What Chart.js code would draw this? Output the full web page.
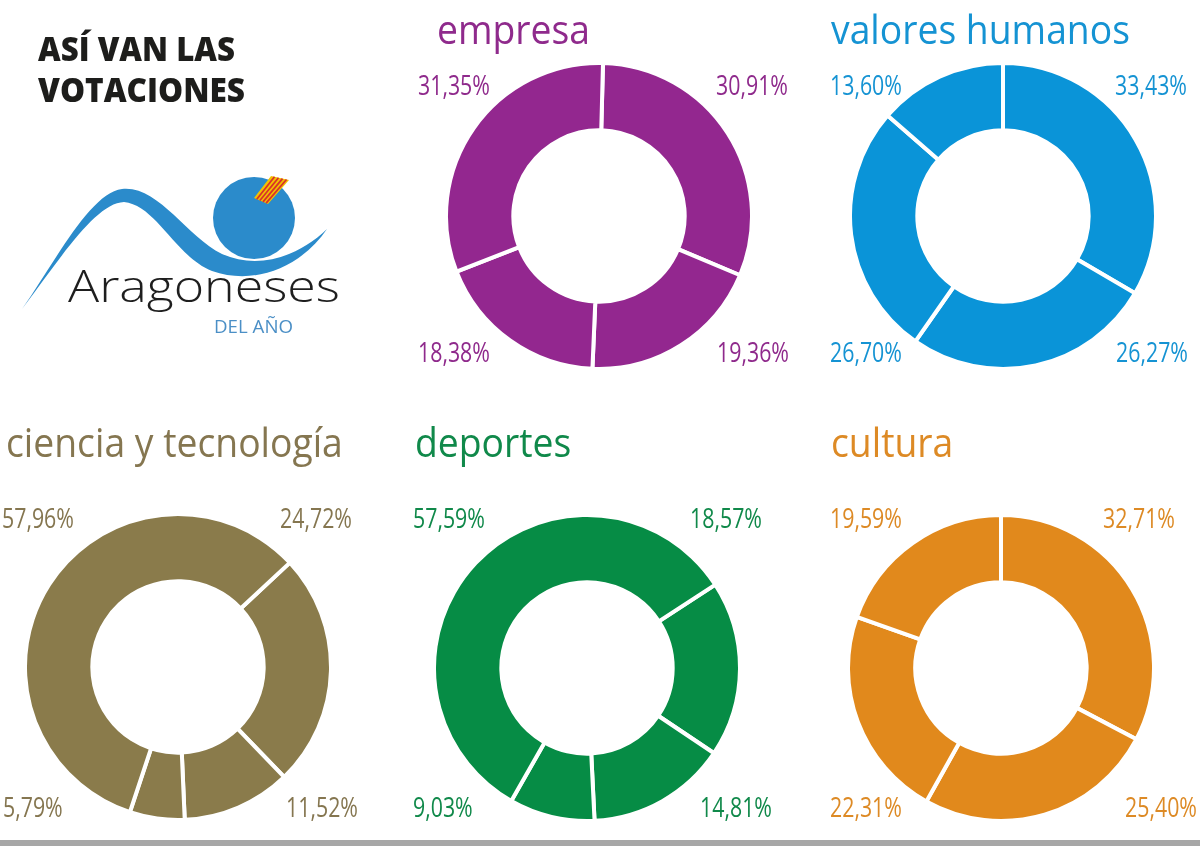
<!DOCTYPE html>
<html lang="es">
<head>
<meta charset="utf-8">
<title>Así van las votaciones</title>
<script src="https://cdn.jsdelivr.net/npm/chart.js@4.4.1/dist/chart.umd.min.js"></script>
<style>
  html, body { margin: 0; padding: 0; background: #fff; }
  #page { position: relative; width: 1200px; height: 846px; overflow: hidden; background: #fff; }
  .donut { position: absolute; width: 310px; height: 310px; }
  #overlay { position: absolute; left: 0; top: 0; pointer-events: none; }
  #bottombar { position: absolute; left: 0; top: 840px; width: 1200px; height: 6px; background: #a7a7a7; }
</style>
</head>
<body>
<div id="page">
  <canvas id="c0" class="donut" width="310" height="310"></canvas>
  <canvas id="c1" class="donut" width="310" height="310"></canvas>
  <canvas id="c2" class="donut" width="310" height="310"></canvas>
  <canvas id="c3" class="donut" width="310" height="310"></canvas>
  <canvas id="c4" class="donut" width="310" height="310"></canvas>
  <svg id="overlay" width="1200" height="846" xmlns="http://www.w3.org/2000/svg">
    <!-- logo shapes -->
    <path d="M 22 309 C 55 262, 90 193, 122 189 C 158 185, 186 236, 222 254 C 258 270, 298 257, 327 229 C 301 267, 255 286, 212 271 C 176 257, 156 205, 124 202 C 96 203, 62 256, 22 309 Z" fill="#2b8bcb"/>
    <circle cx="254" cy="218" r="41" fill="#2b8bcb"/>
    <polygon points="271,176 289,180 268,204 254,198" fill="#f2c200"/>
    <g stroke="#d8322a" stroke-width="1.8">
      <line x1="274.5" y1="176.8" x2="256.8" y2="199.2"/>
      <line x1="278.5" y1="177.7" x2="259.9" y2="200.5"/>
      <line x1="282.5" y1="178.6" x2="263" y2="201.8"/>
      <line x1="286.5" y1="179.5" x2="266.1" y2="203.1"/>
    </g>
  </svg>
  <div id="bottombar"></div>
</div>
<script>
// ---- data (values in clockwise order starting at each ring's first divider;
//      corners: top-right, bottom-right, bottom-left, top-left) ----
const categories = ['empresa', 'valores humanos', 'ciencia y tecnología', 'deportes', 'cultura'];
const empresaValues  = [30.91, 19.36, 18.38, 31.35];
const valoresValues  = [33.43, 26.27, 26.70, 13.60];
const cienciaValues  = [24.72, 11.52, 5.79, 57.96];
const deportesValues = [18.57, 14.81, 9.03, 57.59];
const culturaValues  = [32.71, 25.40, 22.31, 19.59];
const cornerNames = ['arriba derecha', 'abajo derecha', 'abajo izquierda', 'arriba izquierda'];
const headline = ['ASÍ VAN LAS', 'VOTACIONES'];
const logoName = 'Aragoneses';
const logoSub = 'DEL AÑO';

// ---- layout & style ----
const seriesValues = [empresaValues, valoresValues, cienciaValues, deportesValues, culturaValues];
const colors = ['#93278f', '#0a94d8', '#8a7b4b', '#068c45', '#e1891c'];
const textColors = ['#8f2a8c', '#1593d3', '#857650', '#10894a', '#dd8a25'];
const centers = [[599, 216], [1003, 216], [178, 667], [587, 668], [1001, 668]];
const rotations = [1.5, 0, 47, 57, 0];
const titlePos = [[437, 44], [831, 44], [6, 457], [415, 457], [831, 457]];
// label anchors per chart: [TR right x, BR right x, BL left x, TL left x], baselines top/bottom
const labelX = [
  [788, 789, 418, 418],
  [1187, 1188, 830, 830],
  [352, 358, 3, 2],
  [762, 772, 413, 413],
  [1175, 1197, 830, 830]
];
const labelY = [[95, 362], [95, 362], [528, 817], [528, 817], [528, 817]];

const fmt = v => v.toFixed(2).replace('.', ',') + '%';

seriesValues.forEach((vals, i) => {
  const cv = document.getElementById('c' + i);
  cv.style.left = (centers[i][0] - 155) + 'px';
  cv.style.top = (centers[i][1] - 155) + 'px';
  new Chart(cv, {
    type: 'doughnut',
    data: {
      labels: cornerNames,
      datasets: [{
        data: vals,
        backgroundColor: colors[i],
        borderColor: '#ffffff',
        borderWidth: 4,
        hoverOffset: 0,
        offset: 0
      }]
    },
    options: {
      responsive: false,
      animation: false,
      events: [],
      cutout: '56%',
      rotation: rotations[i],
      layout: { padding: 0 },
      plugins: { legend: { display: false }, tooltip: { enabled: false } }
    }
  });
});

// ---- text overlay ----
const svg = document.getElementById('overlay');
const NS = 'http://www.w3.org/2000/svg';
function addText(str, x, y, opts) {
  const t = document.createElementNS(NS, 'text');
  t.textContent = str;
  t.setAttribute('transform', `translate(${x} ${y}) scale(${opts.sx || 1} 1)`);
  t.setAttribute('x', 0);
  t.setAttribute('y', 0);
  t.setAttribute('font-family', "'Open Sans', 'DejaVu Sans', sans-serif");
  t.setAttribute('font-size', opts.size);
  t.setAttribute('font-weight', opts.weight || 400);
  t.setAttribute('fill', opts.fill);
  t.setAttribute('text-anchor', opts.anchor || 'start');
  if (opts.len) { t.setAttribute('textLength', opts.len); t.setAttribute('lengthAdjust', 'spacingAndGlyphs'); }
  svg.appendChild(t);
  return t;
}

// headline
addText(headline[0], 38, 61, { size: 34, weight: 800, fill: '#1d1d1b', len: 197 });
addText(headline[1], 38, 102, { size: 34, weight: 800, fill: '#1d1d1b', len: 207 });

// logo text
addText(logoName, 68, 302, { size: 45, weight: 300, fill: '#1e1e1e', len: 272 });
addText(logoSub, 214, 333, { size: 18, weight: 400, fill: '#4b8fc6', len: 79 });

// category titles
categories.forEach((name, i) => {
  addText(name, titlePos[i][0], titlePos[i][1], { size: 41, weight: 500, fill: textColors[i], sx: 0.91 });
});

// percentage labels
seriesValues.forEach((vals, i) => {
  vals.forEach((v, k) => {
    const right = k < 2;
    const y = (k === 0 || k === 3) ? labelY[i][0] : labelY[i][1];
    addText(fmt(v), labelX[i][k], y, { size: 27, weight: 500, fill: textColors[i], sx: 0.79, anchor: right ? 'end' : 'start' });
  });
});
</script>
</body>
</html>
